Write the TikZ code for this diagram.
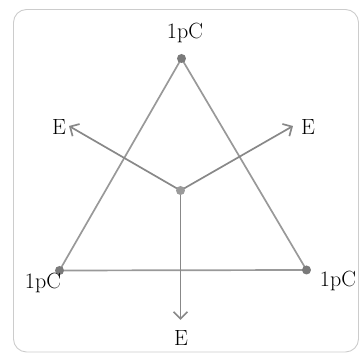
\documentclass[tikz,border=0pt]{standalone}
\usetikzlibrary{arrows.meta}
\definecolor{fieldFrame}{HTML}{CCCCCC}
\definecolor{fieldSide}{HTML}{999999}
\definecolor{fieldArrow}{HTML}{888888}
\definecolor{fieldDot}{HTML}{7A7A7A}
\definecolor{fieldCenter}{HTML}{9A9A9A}
\tikzset{
  field diagram/.style={
    x=1pt, y=-1pt, line width=1.7pt,
    >={Straight Barb[length=7pt,width=14pt]},
    every node/.style={font=\fontsize{22}{26}\selectfont,
      text=black, inner sep=0pt, outer sep=0pt}
  },
  field side/.style={draw=fieldSide},
  field arrow/.style={draw=fieldArrow, ->},
  charge dot/.style={circle, fill=fieldDot, minimum size=9pt}
}
\begin{document}
\begin{tikzpicture}[field diagram]
    \useasboundingbox (0,0) rectangle (360,358);
    \draw[fieldFrame,line width=0.9pt,rounded corners=13pt]
      (13.5,9.5) rectangle (358.5,352);
    % charges and field point
    \coordinate (qtop) at (181.5,58.5);
    \coordinate (qleft) at (59.5,270.5);
    \coordinate (qright) at (306.5,270);
    \coordinate (p) at (180.5,190.5);
    \coordinate (eleft) at (69,126);
    \coordinate (eright) at (293,126);
    \coordinate (edown) at (180.5,320);
    \draw[field side] (qtop) -- (qleft) -- (qright) -- cycle;
    \draw[field arrow] (p) -- (eleft);
    \draw[field arrow] (p) -- (eright);
    \draw[field arrow] (p) -- (edown);
    \node[charge dot] (dtop) at (qtop) {};
    \node[charge dot] (dleft) at (qleft) {};
    \node[charge dot] (dright) at (qright) {};
    \node[charge dot,fill=fieldCenter] (dp) at (p) {};
    % labels
    \node (ltop) at (185,33) {1pC};
    \node (lleft) at (43,283) {1pC};
    \node (lright) at (338,281) {1pC};
    \node (leleft) at (59,127) {E};
    \node (leright) at (308,127) {E};
    \node (ledown) at (181,338) {E};
  \end{tikzpicture}
\end{document}
